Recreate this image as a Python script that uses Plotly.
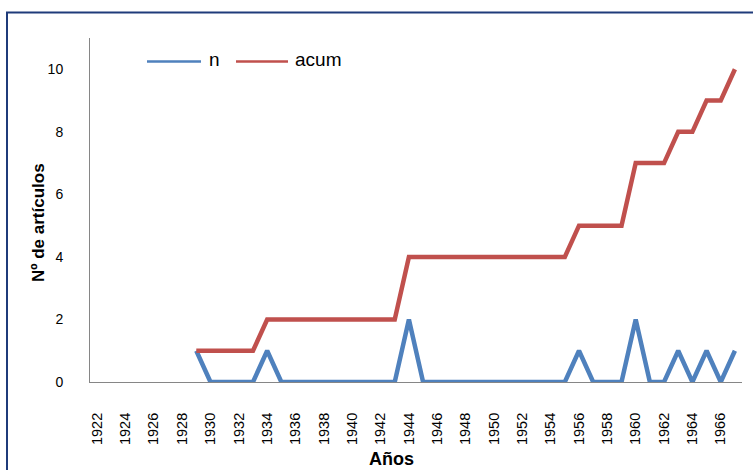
import plotly.graph_objects as go

years = list(range(1922, 1968))
n_values = [None] * 7 + [1, 0, 0, 0, 0, 1, 0, 0, 0, 0, 0, 0, 0, 0, 0, 2, 0,
                         0, 0, 0, 0, 0, 0, 0, 0, 0, 0, 1, 0, 0, 0, 2, 0,
                         0, 1, 0, 1, 0, 1]
acum_values = [None] * 7 + [1, 1, 1, 1, 1, 2, 2, 2, 2, 2, 2, 2, 2, 2, 2, 4, 4,
                            4, 4, 4, 4, 4, 4, 4, 4, 4, 4, 5, 5, 5, 5, 7, 7,
                            7, 8, 8, 9, 9, 10]
tick_years = list(range(1922, 1967, 2))
series_names = ["n", "acum"]
series_colors = ["#4F81BD", "#C0504D"]

FONT = "Liberation Sans"
W, H = 753, 470
L, R, T, B = 90, 11, 38, 88
pw, ph = W - L - R, H - T - B


def px(x):
    return (x - L) / pw


def py(y):
    return (H - B - y) / ph


fig = go.Figure()
for name, vals, color in zip(series_names, [n_values, acum_values], series_colors):
    fig.add_trace(go.Scatter(x=years, y=vals, name=name, mode="lines",
                             line=dict(color=color, width=4.5), showlegend=False))

# legend keys drawn as short lines with text labels
legend_keys = [(147, 201, 207), (236, 288, 293)]
shapes = []
annotations = []
for (x0, x1, xt), name, color in zip(legend_keys, series_names, series_colors):
    shapes.append(dict(type="line", xref="paper", yref="paper",
                       x0=px(x0), x1=px(x1), y0=py(61.5), y1=py(61.5),
                       line=dict(color=color, width=2.5)))
    annotations.append(dict(text=name, xref="paper", yref="paper",
                            x=px(xt), y=py(59), xanchor="left", yanchor="middle",
                            showarrow=False,
                            font=dict(size=19, family=FONT, color="#000000")))

annotations += [
    dict(text="<b>Nº de artículos</b>", xref="paper", yref="paper",
         x=px(38), y=py(223), textangle=-90, showarrow=False,
         font=dict(size=17, family=FONT, color="#000000"),
         xanchor="center", yanchor="middle"),
    dict(text="<b>Años</b>", xref="paper", yref="paper",
         x=px(391), y=py(459), showarrow=False,
         font=dict(size=18, family=FONT, color="#000000"),
         xanchor="center", yanchor="middle"),
]

shapes.append(dict(type="rect", xref="paper", yref="paper",
                   x0=px(7), x1=px(770), y0=py(490), y1=py(12.5),
                   line=dict(color="#1F3B7A", width=2), fillcolor="rgba(0,0,0,0)",
                   layer="above"))

fig.update_layout(
    width=W, height=H,
    margin=dict(l=L, r=R, t=T, b=B),
    paper_bgcolor="white", plot_bgcolor="white",
    font=dict(family=FONT, size=14, color="#000000"),
    showlegend=False,
    xaxis=dict(range=[1921.5, 1967.5], tickvals=tick_years,
               ticktext=[str(y) for y in tick_years], tickangle=-90,
               showgrid=False, zeroline=False, showline=True,
               linecolor="#868686", linewidth=1, ticks="",
               ticklabelstandoff=24, tickfont=dict(size=14.5)),
    yaxis=dict(range=[0, 11], tickvals=[0, 2, 4, 6, 8, 10],
               showgrid=False, zeroline=False, showline=True,
               linecolor="#868686", linewidth=1, ticks="",
               ticklabelstandoff=23, tickfont=dict(size=14)),
    annotations=annotations,
    shapes=shapes,
)

fig.write_html("out.html")
